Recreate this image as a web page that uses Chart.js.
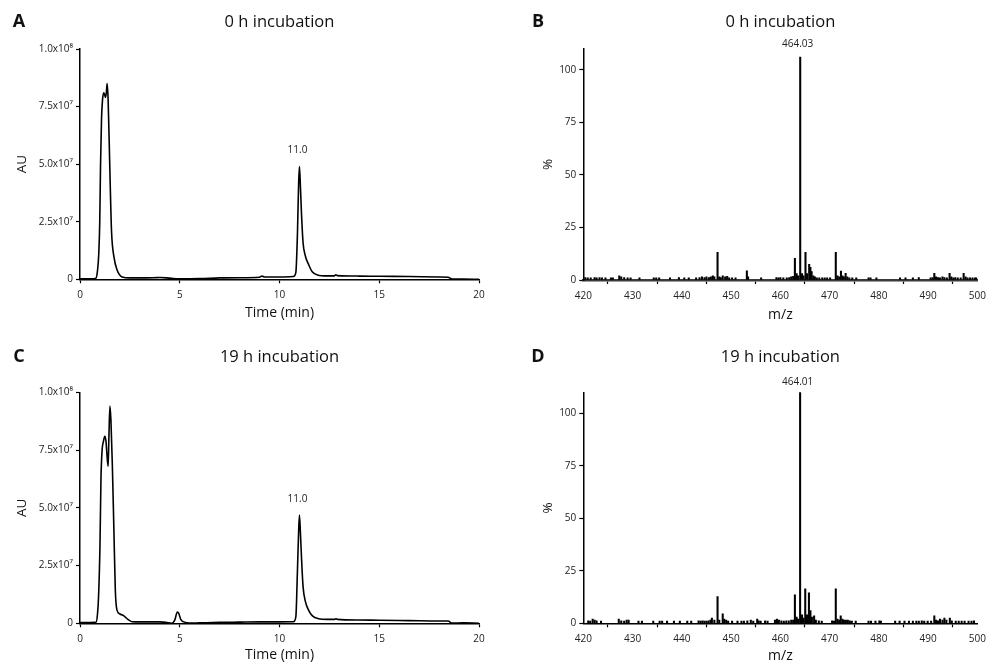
<!DOCTYPE html>
<html>
<head>
<meta charset="utf-8">
<script src="https://cdn.jsdelivr.net/npm/chart.js@4.4.1/dist/chart.umd.min.js"></script>
<style>
  body { margin: 0; background: #fff; }
  #page { position: relative; width: 992px; height: 663px; overflow: hidden; }
  #page canvas { position: absolute; }
</style>
</head>
<body>
<div id="page">
  <canvas id="chartA" width="496" height="331" style="left:0;top:0"></canvas>
  <canvas id="chartB" width="496" height="331" style="left:496px;top:0"></canvas>
  <canvas id="chartC" width="496" height="332" style="left:0;top:331px"></canvas>
  <canvas id="chartD" width="496" height="332" style="left:496px;top:331px"></canvas>
</div>
<script>
// chromatogram A (0 h) - time in min, signal in AU
const timeA = [0, 0.6, 0.8, 0.88, 0.94, 0.99, 1.03, 1.08, 1.13, 1.19, 1.24, 1.28, 1.32, 1.36, 1.41, 1.49, 1.58, 1.7, 1.86, 2.11, 2.5, 3.0, 3.7, 4.0, 4.5, 5.0, 6.0, 7.0, 8.0, 9.0, 9.12, 9.25, 10.0, 10.7, 10.82, 10.9, 10.96, 11.0, 11.05, 11.1, 11.18, 11.3, 11.47, 11.64, 11.9, 12.4, 12.75, 12.82, 12.9, 14.0, 15.0, 16.5, 18.0, 18.45, 18.65, 19.2, 20.0];
const auA = [2e5, 2e5, 5e5, 4e6, 1.1e7, 2.5e7, 5.0e7, 7.0e7, 7.8e7, 8.1e7, 8.0e7, 7.9e7, 8.1e7, 8.5e7, 7.8e7, 5.0e7, 2.1e7, 9.8e6, 4.0e6, 1.0e6, 6e5, 6e5, 7e5, 8e5, 5e5, 2e5, 3e5, 6e5, 7e5, 9e5, 1.4e6, 1.0e6, 1.0e6, 1.2e6, 3e6, 2.0e7, 4.2e7, 4.9e7, 4.0e7, 2.9e7, 1.6e7, 1.0e7, 6.2e6, 3.3e6, 1.9e6, 1.5e6, 1.5e6, 2.0e6, 1.6e6, 1.4e6, 1.3e6, 1.2e6, 1.0e6, 9e5, 1e5, 1e5, 0];

// chromatogram C (19 h)
const timeC = [0, 0.8, 0.88, 0.93, 1.0, 1.05, 1.1, 1.18, 1.24, 1.3, 1.36, 1.41, 1.45, 1.5, 1.55, 1.62, 1.7, 1.77, 1.85, 2.0, 2.2, 2.4, 2.6, 3.0, 4.0, 4.3, 4.6, 4.75, 4.88, 4.95, 5.05, 5.2, 5.5, 6.0, 7.0, 8.0, 9.0, 10.0, 10.7, 10.82, 10.9, 10.96, 11.0, 11.05, 11.1, 11.18, 11.3, 11.45, 11.65, 11.95, 12.4, 12.75, 12.82, 12.9, 14.0, 15.0, 16.5, 18.0, 18.45, 18.65, 19.2, 20.0];
const auC = [3e5, 4e5, 4.3e6, 1.15e7, 3.3e7, 6.2e7, 7.4e7, 7.9e7, 8.1e7, 7.9e7, 7.2e7, 6.8e7, 8.1e7, 9.4e7, 8.8e7, 6.9e7, 4.0e7, 1.44e7, 5.8e6, 4.0e6, 3.2e6, 1.7e6, 7e5, 6e5, 6e5, 4e5, 0, 1.4e6, 4.9e6, 4.3e6, 1.7e6, 6e5, 1e5, 2e5, 4e5, 5e5, 6e5, 6e5, 7e5, 2.9e6, 2.3e7, 4.0e7, 4.69e7, 3.9e7, 2.9e7, 1.6e7, 9.4e6, 5.8e6, 3.2e6, 2.0e6, 1.7e6, 1.7e6, 2.0e6, 1.7e6, 1.45e6, 1.3e6, 1.15e6, 1.0e6, 1.0e6, 1e5, 2e5, 0];

// mass spectrum B (0 h) - m/z and relative intensity %
const mzB = [420.4, 420.9, 421.5, 422.3, 422.7, 423.3, 423.8, 424.5, 425.6, 426.0, 427.3, 427.7, 428.3, 429.0, 429.6, 431.4, 434.3, 434.8, 435.4, 437.6, 439.4, 440.5, 441.4, 442.9, 443.6, 444.1, 444.6, 445.0, 445.5, 445.9, 446.3, 446.6, 447.25, 447.6, 447.9, 448.3, 448.8, 449.2, 449.6, 450.2, 450.9, 453.2, 453.45, 456.1, 459.2, 459.6, 460.0, 460.6, 461.3, 461.8, 462.2, 462.6, 462.95, 463.3, 463.6, 464.03, 464.4, 464.7, 465.1, 465.4, 465.85, 466.1, 466.35, 466.7, 467.0, 467.4, 467.9, 468.5, 469.0, 469.5, 470.1, 471.25, 471.6, 471.95, 472.3, 472.6, 472.9, 473.25, 473.6, 474.0, 474.6, 475.4, 477.9, 478.3, 479.5, 484.3, 485.4, 486.9, 488.1, 490.5, 490.9, 491.25, 491.6, 492.0, 492.4, 492.9, 493.3, 493.8, 494.35, 494.7, 495.1, 495.5, 496.0, 496.6, 497.2, 497.6, 498.0, 498.5, 499.0, 499.5, 499.8];
const intB = [1.2, 1.0, 1.0, 1.2, 1.0, 1.2, 1.0, 1.0, 1.0, 1.0, 2.0, 1.5, 1.2, 1.0, 1.0, 1.0, 1.0, 1.0, 1.0, 1.0, 1.2, 1.0, 1.0, 1.0, 1.2, 1.5, 1.2, 1.5, 1.2, 1.5, 2.0, 1.5, 13.2, 1.5, 1.2, 2.0, 1.5, 1.8, 1.0, 1.0, 1.0, 4.4, 1.5, 1.0, 1.2, 1.0, 1.2, 1.0, 1.0, 1.2, 1.5, 1.8, 10.3, 3.0, 2.0, 106, 3.0, 2.0, 13.2, 3.0, 7.5, 6.0, 4.0, 2.0, 1.5, 1.0, 1.0, 1.0, 1.0, 1.0, 1.0, 13.2, 2.0, 1.5, 4.3, 2.0, 1.5, 3.2, 1.5, 1.0, 1.0, 1.0, 1.0, 1.0, 1.0, 1.0, 1.0, 1.0, 1.2, 1.0, 1.2, 3.2, 1.5, 1.2, 1.0, 1.5, 1.2, 1.0, 3.2, 1.5, 1.0, 1.2, 1.0, 1.0, 3.2, 1.5, 1.0, 1.0, 1.0, 1.0, 1.0];

// mass spectrum D (19 h)
const mzD = [421.0, 421.4, 421.9, 422.3, 422.7, 423.6, 427.2, 427.7, 428.3, 428.8, 429.2, 431.2, 431.9, 434.2, 435.5, 436.0, 437.0, 438.4, 439.6, 441.1, 441.9, 443.4, 443.8, 444.2, 444.6, 445.0, 445.4, 445.8, 446.1, 446.6, 447.25, 447.6, 448.3, 448.6, 449.0, 449.4, 450.2, 451.3, 452.1, 452.6, 453.3, 454.0, 454.5, 455.3, 455.6, 456.0, 456.9, 457.4, 458.9, 459.3, 459.7, 460.2, 460.7, 461.2, 461.7, 462.2, 462.6, 462.95, 463.3, 463.6, 464.01, 464.4, 464.7, 465.05, 465.4, 465.8, 466.1, 466.4, 466.85, 467.2, 467.8, 468.4, 470.5, 470.9, 471.25, 471.6, 471.95, 472.25, 472.6, 472.9, 473.3, 473.7, 474.1, 474.5, 475.3, 477.9, 478.4, 479.3, 480.1, 480.4, 483.3, 484.2, 485.2, 486.1, 486.9, 487.6, 488.1, 488.7, 489.2, 489.9, 490.6, 491.25, 491.6, 492.0, 492.4, 492.9, 493.3, 493.7, 494.4, 494.8, 495.6, 496.2, 496.8, 497.4, 498.2, 498.8, 499.3];
const intD = [1.2, 1.0, 2.0, 1.5, 1.2, 1.0, 2.0, 1.2, 1.0, 1.5, 1.5, 1.0, 1.0, 1.0, 1.0, 1.0, 1.0, 1.0, 1.0, 1.0, 1.0, 1.2, 1.0, 1.2, 1.0, 1.0, 1.2, 1.5, 2.5, 1.5, 12.7, 1.5, 4.5, 2.0, 1.5, 1.0, 1.0, 1.0, 1.0, 1.0, 1.2, 1.5, 1.0, 2.0, 1.2, 1.0, 1.2, 1.0, 1.5, 2.0, 1.5, 1.2, 1.0, 1.2, 1.2, 1.5, 1.5, 13.5, 3.0, 2.0, 110, 4.0, 2.5, 16.4, 4.0, 14.5, 6.0, 3.0, 3.5, 1.5, 1.2, 1.0, 1.2, 1.0, 16.4, 2.0, 1.5, 3.5, 2.0, 1.5, 1.5, 1.5, 1.2, 1.0, 1.0, 1.0, 1.0, 1.0, 1.2, 1.0, 1.0, 1.0, 1.0, 1.0, 1.0, 1.0, 1.0, 1.2, 1.0, 1.0, 1.0, 3.5, 1.5, 1.2, 2.0, 1.5, 2.5, 1.5, 2.5, 1.2, 1.0, 1.0, 1.0, 1.0, 1.0, 1.0, 1.2];

// ticks
const timeTicks = [0, 5, 10, 15, 20];
const auTicks = [0, 2.5e7, 5e7, 7.5e7, 1e8];
const auTickLabels = ['0', '2.5x10\u2077', '5.0x10\u2077', '7.5x10\u2077', '1.0x10\u2078'];
const mzTicks = [420, 430, 440, 450, 460, 470, 480, 490, 500];
const pctTicks = [0, 25, 50, 75, 100];

const FONT = '"Open Sans", "Liberation Sans", sans-serif';

const toPoints = (xs, ys) => xs.map((x, i) => ({ x: x, y: ys[i] }));

// panel letter, title and peak label
const panelText = {
  id: 'panelText',
  afterDraw(chart, args, opts) {
    const { ctx, chartArea, scales } = chart;
    ctx.save();
    ctx.textAlign = 'center';
    ctx.textBaseline = 'middle';
    ctx.fillStyle = '#111';
    ctx.font = 'bold 18px ' + FONT;
    ctx.fillText(opts.letter, opts.letterX, opts.textY);
    ctx.font = '16.5px ' + FONT;
    ctx.fillText(opts.title, (chartArea.left + chartArea.right) / 2, opts.textY);
    const p = opts.peak;
    ctx.font = '10px ' + FONT;
    ctx.fillStyle = '#222';
    const py = Math.max(scales.y.getPixelForValue(p.y), chartArea.top);
    ctx.fillText(p.text, scales.x.getPixelForValue(p.x), py - p.gap);
    ctx.restore();
  }
};

function buildChart(id, o) {
  const canvas = document.getElementById(id);
  const W = canvas.width, H = canvas.height;
  const a = o.area;
  return new Chart(canvas, {
    type: o.type,
    data: { datasets: [o.dataset] },
    options: {
      responsive: false,
      animation: false,
      events: [],
      layout: { padding: { left: 0, top: a.top, right: W - a.right, bottom: 0 } },
      plugins: {
        legend: { display: false },
        tooltip: { enabled: false },
        panelText: o.text
      },
      scales: {
        x: {
          type: 'linear',
          min: o.xTicks[0],
          max: o.xTicks[o.xTicks.length - 1],
          offset: false,
          afterBuildTicks: s => { s.ticks = o.xTicks.map(v => ({ value: v })); },
          afterFit: s => { s.height = H - a.bottom; },
          grid: { drawOnChartArea: false, drawTicks: true, tickLength: 4, color: '#000', tickWidth: 1.2 },
          border: { display: true, color: o.xBorder[0], width: o.xBorder[1] },
          ticks: { color: '#222', font: { family: FONT, size: 10 }, padding: 6, maxRotation: 0 },
          title: { display: true, text: o.xTitle, color: '#111', font: { family: FONT, size: 14, lineHeight: 1 }, padding: { top: 0, bottom: o.xTitlePad } }
        },
        y: {
          min: o.yTicks[0],
          max: o.yMax,
          afterBuildTicks: s => { s.ticks = o.yTicks.map(v => ({ value: v })); },
          afterFit: s => { s.width = a.left; },
          grid: { drawOnChartArea: false, drawTicks: true, tickLength: 4, color: '#000', tickWidth: 1.2 },
          border: { display: true, color: '#000', width: 1.5 },
          ticks: {
            color: '#222', font: { family: FONT, size: 10 }, padding: 3,
            callback: (v, i) => o.yLabels[i]
          },
          title: { display: true, text: o.yTitle, color: '#111', font: { family: FONT, size: 13.5, lineHeight: 1 }, padding: { top: o.yTitlePad, bottom: 0 } }
        }
      }
    },
    plugins: [panelText]
  });
}

function traceDataset(xs, ys) {
  return {
    type: 'scatter', showLine: true, data: toPoints(xs, ys),
    borderColor: '#000', borderWidth: 1.6, pointRadius: 0,
    cubicInterpolationMode: 'monotone'
  };
}

function spectrumDataset(xs, ys) {
  return {
    type: 'bar', data: toPoints(xs, ys),
    backgroundColor: '#000', borderWidth: 0, barThickness: 1.4, grouped: false
  };
}

buildChart('chartA', {
  type: 'scatter', dataset: traceDataset(timeA, auA),
  area: { left: 80, right: 479, top: 49, bottom: 279.3 },
  xTicks: timeTicks, yTicks: auTicks, yLabels: auTickLabels, yMax: 1e8,
  xBorder: ['#000', 1.5], xTitle: 'Time (min)', xTitlePad: 11, yTitle: 'AU', yTitlePad: 15,
  text: { letter: 'A', letterX: 19, textY: 22, title: '0 h incubation', peak: { text: '11.0', x: 10.9, y: 4.9e7, gap: 16 } }
});

buildChart('chartB', {
  type: 'bar', dataset: spectrumDataset(mzB, intB),
  area: { left: 87.3, right: 484.7, top: 48.7, bottom: 280 },
  xTicks: mzTicks, yTicks: pctTicks, yLabels: pctTicks.map(String), yMax: 110,
  xBorder: ['#3a3a3a', 2.5], xTitle: 'm/z', xTitlePad: 9.3, yTitle: '%', yTitlePad: 45.5,
  text: { letter: 'B', letterX: 42, textY: 22, title: '0 h incubation', peak: { text: '464.03', x: 463.5, y: 106, gap: 13 } }
});

buildChart('chartC', {
  type: 'scatter', dataset: traceDataset(timeC, auC),
  area: { left: 80, right: 479, top: 61.3, bottom: 292.3 },
  xTicks: timeTicks, yTicks: auTicks, yLabels: auTickLabels, yMax: 1e8,
  xBorder: ['#000', 1.5], xTitle: 'Time (min)', xTitlePad: 1, yTitle: 'AU', yTitlePad: 15,
  text: { letter: 'C', letterX: 19, textY: 26, title: '19 h incubation', peak: { text: '11.0', x: 10.9, y: 4.69e7, gap: 16 } }
});

buildChart('chartD', {
  type: 'bar', dataset: spectrumDataset(mzD, intD),
  area: { left: 87.3, right: 484.7, top: 61.3, bottom: 292.3 },
  xTicks: mzTicks, yTicks: pctTicks, yLabels: pctTicks.map(String), yMax: 110,
  xBorder: ['#000', 1.5], xTitle: 'm/z', xTitlePad: 0.2, yTitle: '%', yTitlePad: 45.5,
  text: { letter: 'D', letterX: 42, textY: 26, title: '19 h incubation', peak: { text: '464.01', x: 463.5, y: 110, gap: 10 } }
});
</script>
</body>
</html>
